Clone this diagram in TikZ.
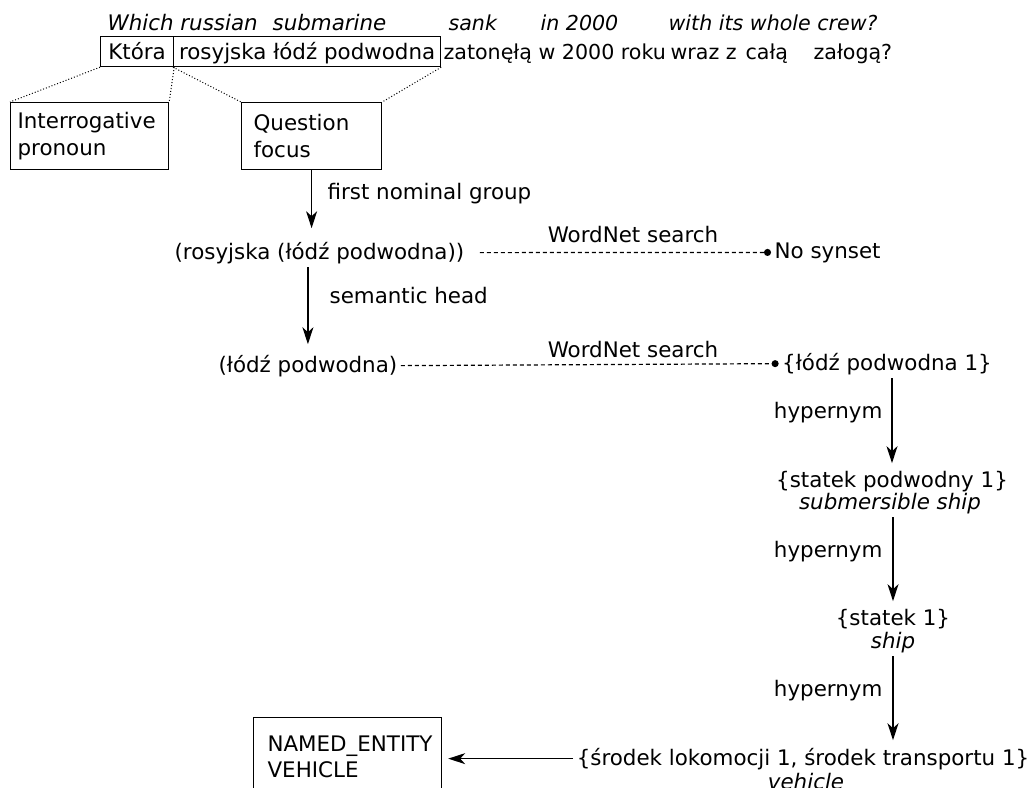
\documentclass[tikz,border=0pt]{standalone}
\usepackage{fontspec}
\setmainfont{DejaVu Sans}
\usetikzlibrary{arrows.meta}

\begin{document}
\begin{tikzpicture}[x=0.5pt,y=-0.5pt,line width=0.6pt,
  font=\fontsize{10.7pt}{13.2pt}\selectfont,
  txt/.style={inner sep=1.5pt,anchor=base},
  gloss/.style={txt,font=\fontsize{10.7pt}{13.2pt}\selectfont\itshape},
  word/.style={inner sep=0pt,anchor=base west,font=\fontsize{#1}{12pt}\selectfont},
  word/.default=10.7pt,
  eng/.style={inner sep=0pt,anchor=base west,font=\fontsize{#1}{12pt}\selectfont\itshape},
  eng/.default=10.7pt,
  wbox/.style={draw,inner sep=0pt,text height=11.5pt,text depth=3.5pt,anchor=north west},
  cat/.style={draw,align=left,anchor=north west,minimum height=33.5pt},
  arr/.style={-{Stealth[length=8.5pt,width=5.5pt,inset=2.5pt]},shorten >=2pt},
  search/.style={dash pattern=on 2pt off 1.5pt,-{Circle[length=3.5pt]}},
  part/.style={densely dotted,line width=0.5pt}]

\useasboundingbox (0,0) rectangle (1032,787);
\clip (0,0) rectangle (1032,787);

\node[eng] (en0) at (107,31) {Which russian};
\node[eng] (en1) at (272,31) {submarine};
\node[eng=10.3pt] (en2) at (448,31) {sank};
\node[eng=10.3pt] (en3) at (540,31) {in 2000};
\node[eng=10.3pt] (en4) at (668,31) {with its whole crew?};

\node[wbox,minimum width=36.5pt] (ktora) at (100,36) {Która};
\node[wbox,minimum width=133.5pt] (phrase) at (173,36) {rosyjska łódź podwodna};
\node[word=10.3pt] (pl0) at (443,59) {zatonęłą};
\node[word=10.3pt] (pl1) at (538,59) {w 2000 roku};
\node[word=10.3pt] (pl2) at (670,59) {wraz z};
\node[word=10.3pt] (pl3) at (745,59) {całą};
\node[word=10.3pt] (pl4) at (813,59) {załogą?};

\node[cat,text width=72pt,inner xsep=3.5pt] (pronoun) at (10,102) {Interrogative\\pronoun};
\node[cat,text width=58pt,inner xsep=6pt] (focus) at (241,102) {Question\\focus};
\node[cat,text width=80pt,inner xsep=7pt,minimum height=39pt] (ne) at (253,717) {NAMED\_ENTITY\\VEHICLE};

\node[txt,anchor=base west] (np1) at (171,259) {(rosyjska (łódź podwodna))};
\node[txt,anchor=base west] (nosyn) at (771,258) {No synset};
\node[txt,anchor=base west] (np2) at (215,372) {(łódź podwodna)};
\node[txt] (syn1) at (887,370) {\{łódź podwodna 1\}};
\node[txt] (syn2) at (892,487) {\{statek podwodny 1\}};
\node[gloss] (gl2) at (890,509) {submersible ship};
\node[txt] (syn3) at (893,625) {\{statek 1\}};
\node[gloss] (gl3) at (893,648) {ship};
\node[txt] (syn4) at (803,765) {\{środek lokomocji 1, środek transportu 1\}};
\node[gloss] (gl4) at (806,789) {vehicle};

\node[txt,anchor=base west] (lnom) at (324,199) {first nominal group};
\node[txt,anchor=base west] (lhead) at (326,303) {semantic head};
\node[txt] (ws1) at (633,242) {WordNet search};
\node[txt] (ws2) at (633,357) {WordNet search};
\node[txt,anchor=base east] (hyp1) at (886,418) {hypernym};
\node[txt,anchor=base east] (hyp2) at (886,557) {hypernym};
\node[txt,anchor=base east] (hyp3) at (886,696) {hypernym};

\draw[part] (ktora.south west) -- (pronoun.north west);
\draw[part] (ktora.south east) -- (pronoun.north east);
\draw[part] (phrase.south west) -- (focus.north west);
\draw[part] (phrase.south east) -- (focus.north east);

\draw[arr,shorten >=5pt] (focus.south) -- (focus.south |- np1.north);
\draw[arr,shorten >=3.5pt] (np1.south -| np2.north) -- (np2.north);
\draw[search,shorten <=6pt] (np1.east) -- (nosyn.west);
\draw[search] (np2.east) -- (syn1.west);

\draw[arr] (syn1.south -| syn2.north) -- (syn2.north);
\draw[arr] (gl2.south -| syn3.north) -- (syn3.north);
\draw[arr] (gl3.south) -- (gl3.south |- syn4.north);
\draw[arr,shorten >=3pt] (syn4.west) -- (syn4.west -| ne.east);

\end{tikzpicture}
\end{document}
